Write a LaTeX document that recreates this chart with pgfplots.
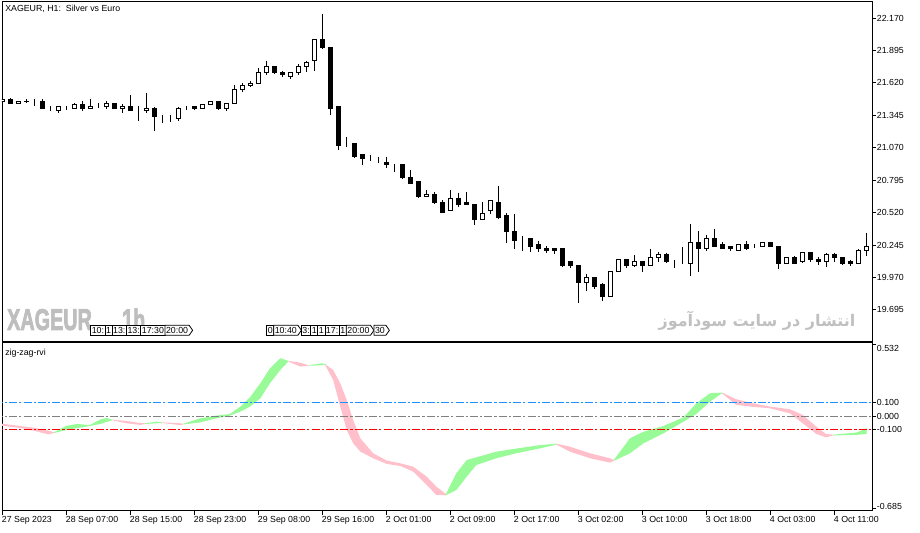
\documentclass[border=0pt]{standalone}
\usepackage{pgfplots}
\usepackage{pgfplotstable}
\pgfplotsset{compat=1.18}
\usetikzlibrary{shapes.symbols}
\usepackage{fontspec}
\setmainfont{Liberation Sans}
\newfontfamily\wmfont{Liberation Sans}[BoldFeatures={FakeBold=3}]
\newfontfamily\arabicfont[Script=Arabic]{DejaVu Sans}
\TeXXeTstate=1
\newcommand{\mt}{\fontsize{6.6pt}{7.6pt}\selectfont}
\definecolor{rvigreen}{RGB}{152,251,152}
\definecolor{rvipink}{RGB}{255,192,203}
\definecolor{lvlblue}{RGB}{30,144,255}
\definecolor{lvlgray}{RGB}{128,128,128}
\definecolor{lvlred}{RGB}{255,0,0}
\definecolor{wmgray}{RGB}{190,190,190}
\definecolor{fagray}{RGB}{192,192,192}

\pgfplotstableread{
i o h l c
0 21.466 21.483 21.466 21.483
1 21.483 21.492 21.449 21.449
2 21.449 21.466 21.449 21.466
3 21.464 21.483 21.449 21.466
4 21.466 21.483 21.424 21.466
5 21.458 21.483 21.399 21.407
6 21.403 21.420 21.382 21.403
7 21.390 21.424 21.365 21.424
8 21.420 21.420 21.390 21.420
9 21.407 21.449 21.399 21.441
10 21.441 21.466 21.382 21.399
11 21.407 21.483 21.399 21.424
12 21.424 21.449 21.407 21.424
13 21.424 21.466 21.399 21.449
14 21.449 21.449 21.399 21.399
15 21.399 21.441 21.365 21.424
16 21.424 21.517 21.382 21.382
17 21.390 21.424 21.297 21.390
18 21.382 21.534 21.365 21.407
19 21.407 21.416 21.212 21.331
20 21.331 21.348 21.280 21.331
21 21.327 21.348 21.288 21.327
22 21.322 21.416 21.297 21.407
23 21.407 21.424 21.390 21.407
24 21.416 21.424 21.390 21.399
25 21.399 21.441 21.399 21.441
26 21.441 21.466 21.433 21.458
27 21.458 21.466 21.390 21.399
28 21.399 21.449 21.382 21.449
29 21.449 21.602 21.449 21.568
30 21.568 21.619 21.543 21.602
31 21.594 21.636 21.585 21.619
32 21.619 21.746 21.619 21.712
33 21.712 21.806 21.687 21.755
34 21.755 21.755 21.695 21.704
35 21.712 21.721 21.670 21.687
36 21.678 21.712 21.653 21.712
37 21.712 21.780 21.687 21.763
38 21.763 21.806 21.712 21.797
39 21.806 21.992 21.721 21.992
40 21.992 22.204 21.907 21.916
41 21.924 21.924 21.348 21.407
42 21.416 21.416 21.051 21.093
43 21.102 21.161 21.076 21.102
44 21.102 21.102 20.983 21.000
45 21.009 21.017 20.924 20.975
46 20.975 21.009 20.958 20.975
47 20.975 20.992 20.941 20.975
48 20.949 20.992 20.898 20.924
49 20.932 20.932 20.865 20.932
50 20.932 20.932 20.805 20.814
51 20.822 20.882 20.763 20.771
52 20.780 20.780 20.644 20.653
53 20.653 20.712 20.653 20.678
54 20.678 20.695 20.593 20.602
55 20.610 20.627 20.517 20.525
56 20.542 20.712 20.534 20.644
57 20.644 20.687 20.568 20.593
58 20.602 20.695 20.585 20.585
59 20.585 20.593 20.415 20.466
60 20.466 20.610 20.466 20.517
61 20.534 20.619 20.509 20.619
62 20.610 20.746 20.466 20.483
63 20.492 20.517 20.263 20.364
64 20.364 20.509 20.212 20.288
65 20.297 20.322 20.195 20.297
66 20.297 20.305 20.186 20.237
67 20.246 20.280 20.186 20.212
68 20.220 20.237 20.178 20.203
69 20.212 20.220 20.169 20.203
70 20.212 20.212 20.059 20.076
71 20.102 20.110 20.051 20.068
72 20.076 20.076 19.754 19.932
73 19.932 20.000 19.856 19.974
74 19.974 19.974 19.873 19.898
75 19.907 19.924 19.771 19.813
76 19.813 20.025 19.805 20.017
77 20.025 20.127 20.017 20.119
78 20.119 20.119 20.051 20.068
79 20.068 20.161 20.059 20.110
80 20.110 20.110 20.017 20.068
81 20.076 20.212 20.076 20.144
82 20.144 20.186 20.102 20.169
83 20.169 20.178 20.093 20.102
84 20.102 20.119 20.051 20.102
85 20.093 20.229 20.085 20.093
86 20.093 20.424 19.983 20.271
87 20.271 20.364 20.017 20.212
88 20.212 20.331 20.195 20.297
89 20.305 20.381 20.229 20.237
90 20.246 20.271 20.212 20.220
91 20.229 20.237 20.195 20.212
92 20.203 20.246 20.203 20.246
93 20.254 20.280 20.203 20.212
94 20.237 20.254 20.220 20.237
95 20.237 20.271 20.229 20.263
96 20.263 20.263 20.229 20.229
97 20.237 20.237 20.042 20.093
98 20.093 20.144 20.085 20.136
99 20.136 20.152 20.085 20.093
100 20.102 20.186 20.093 20.178
101 20.178 20.178 20.102 20.119
102 20.127 20.144 20.076 20.110
103 20.110 20.178 20.059 20.161
104 20.161 20.178 20.102 20.144
105 20.144 20.144 20.076 20.093
106 20.102 20.119 20.068 20.093
107 20.093 20.212 20.085 20.203
108 20.195 20.348 20.152 20.237
}\candles

\tikzset{
  tb/.style={draw=black, line width=0.6pt, fill=white, inner xsep=0.8pt, inner ysep=0pt,
    minimum height=7.5pt, font=\mt, anchor=west, outer sep=0pt},
  ta/.style={tb, shape=signal, signal to=east, signal pointer angle=110},
  lvl/.style={line width=0.8pt, dash pattern=on 6pt off 1.6pt on 1.6pt off 1.6pt}
}

\begin{document}
\begin{tikzpicture}[x=0.75pt,y=-0.75pt]
\path[use as bounding box] (0,0) rectangle (920,532);

% watermark (behind everything)
\node[anchor=south west, inner sep=0pt, xscale=0.66, text=wmgray,
  font=\fontsize{22.5pt}{22.5pt}\wmfont\bfseries] at (7,330.5) {XAGEUR};
\node[anchor=south west, inner sep=0pt, xscale=0.66, text=wmgray,
  font=\fontsize{22.5pt}{22.5pt}\wmfont\bfseries] at (122,330.5) {1h};
\node[text=fagray, inner sep=0pt, font=\arabicfont\bfseries\fontsize{12pt}{12pt}\selectfont]
  at (757,321) {\beginR انتشار در سایت سودآموز\endR};

% ---------- upper panel: frame, price scale, wicks ----------
\begin{axis}[
  at={(1.5pt,-255.75pt)}, anchor=south west, scale only axis,
  width=652.5pt, height=255pt,
  xmin=-0.09, xmax=108.66, ymin=19.4319, ymax=22.3141,
  axis line style={line width=0.75pt},
  xtick=\empty,
  ytick={19.695,19.970,20.245,20.520,20.795,21.070,21.345,21.620,21.895,22.170},
  yticklabels={19.695,19.970,20.245,20.520,20.795,21.070,21.345,21.620,21.895,22.170},
  ytick pos=right, yticklabel pos=right, tick align=outside,
  major tick length=3pt, tick style={black, line width=0.75pt},
  yticklabel style={font=\mt, inner sep=0pt, anchor=west, xshift=0.5pt},
]
\addplot[draw=none, mark=none,
  error bars/.cd, y dir=both, y explicit, error mark=none,
  error bar style={draw=black, line width=0.75pt, solid}]
  table[x=i, y=h, y error plus expr={0}, y error minus expr={\thisrow{h}-\thisrow{l}}] {\candles};
\end{axis}

% ---------- upper panel: candle bodies ----------
\begin{axis}[
  at={(1.5pt,-255.75pt)}, anchor=south west, scale only axis,
  width=652.5pt, height=255pt,
  xmin=-0.09, xmax=108.66, ymin=19.4319, ymax=22.3141,
  hide axis, ybar stacked, bar width=0.5,
]
\addplot[draw=none, fill=none] table[x=i, y expr={min(\thisrow{o},\thisrow{c})}] {\candles};
\addplot[draw=black, fill=white, line width=0.75pt] table[x=i, y expr={max(\thisrow{c}-\thisrow{o},0)}] {\candles};
\addplot[draw=black, fill=black, line width=0.75pt] table[x=i, y expr={max(\thisrow{o}-\thisrow{c},0)}] {\candles};
\end{axis}

% ---------- lower panel: zig-zag-rvi ----------
\begin{axis}[
  at={(1.5pt,-383.0pt)}, anchor=south west, scale only axis,
  width=652.5pt, height=125.8pt,
  xmin=-0.09, xmax=108.66, ymin=-0.699, ymax=0.543,
  axis line style={line width=0.75pt},
  xtick={0,8,16,24,32,40,48,56,64,72,80,88,96,104},
  xticklabels={27 Sep 2023,28 Sep 07:00,28 Sep 15:00,28 Sep 23:00,29 Sep 08:00,29 Sep 16:00,2 Oct 01:00,2 Oct 09:00,2 Oct 17:00,3 Oct 02:00,3 Oct 10:00,3 Oct 18:00,4 Oct 03:00,4 Oct 11:00},
  xtick pos=bottom, ytick pos=right, yticklabel pos=right, tick align=outside,
  major tick length=3pt, tick style={black, line width=0.75pt},
  xticklabel style={font=\mt, inner sep=0pt, anchor=north west, xshift=-0.8pt, yshift=-1pt},
  ytick={-0.685,-0.1,0,0.1,0.532},
  yticklabels={{\raisebox{1.9pt}[4.7pt][0pt]{-0.685}},-0.100,0.000,0.100,{\raisebox{-3pt}[4.7pt][0pt]{0.532}}},
  yticklabel style={font=\mt, inner sep=0pt, anchor=west, xshift=0.5pt},
]
% ribbon: pink where falling, green where rising
\addplot[fill=rvipink, draw=none] coordinates {(-0.1,-0.055) (2.2,-0.072) (3.8,-0.084) (5.7,-0.106) (6.4,-0.118) (6.4,-0.124) (5.7,-0.134) (3.8,-0.106) (2.2,-0.087) (-0.1,-0.070)};
\addplot[fill=rvigreen, draw=none] coordinates {(6.4,-0.118) (8.0,-0.070) (9.3,-0.057) (10.9,-0.065) (12.2,-0.023) (13.0,-0.013) (13.7,-0.025) (13.7,-0.030) (13.0,-0.042) (12.2,-0.057) (10.9,-0.072) (9.3,-0.087) (8.0,-0.101) (6.4,-0.124)};
\addplot[fill=rvipink, draw=none] coordinates {(13.7,-0.025) (15.5,-0.035) (17.2,-0.050) (17.8,-0.052) (17.8,-0.057) (17.2,-0.064) (15.5,-0.052) (13.7,-0.030)};
\addplot[fill=rvigreen, draw=none] coordinates {(17.8,-0.052) (19.2,-0.040) (19.9,-0.045) (19.9,-0.050) (19.2,-0.052) (17.8,-0.057)};
\addplot[fill=rvipink, draw=none] coordinates {(19.9,-0.045) (22.2,-0.052) (22.6,-0.055) (22.6,-0.060) (22.2,-0.065) (19.9,-0.050)};
\addplot[fill=rvigreen, draw=none] coordinates {(22.6,-0.055) (24.7,-0.015) (26.7,0.005) (28.4,0.017) (29.7,0.071) (30.9,0.140) (32.2,0.244) (33.4,0.355) (34.7,0.430) (35.7,0.410) (35.7,0.405) (34.7,0.343) (33.4,0.244) (32.2,0.133) (30.9,0.071) (29.7,0.034) (28.4,0.005) (26.7,-0.015) (24.7,-0.045) (22.6,-0.060)};
\addplot[fill=rvipink, draw=none] coordinates {(35.7,0.410) (37.2,0.397) (38.2,0.378) (38.2,0.374) (37.2,0.368) (35.7,0.405)};
\addplot[fill=rvigreen, draw=none] coordinates {(38.2,0.378) (39.9,0.392) (40.3,0.386) (40.3,0.380) (39.9,0.378) (38.2,0.374)};
\addplot[fill=rvipink, draw=none] coordinates {(40.3,0.386) (41.3,0.343) (42.2,0.244) (43.0,0.121) (43.8,-0.027) (44.7,-0.163) (46.3,-0.274) (48.0,-0.328) (49.7,-0.348) (51.3,-0.373) (53.0,-0.447) (54.2,-0.521) (55.4,-0.575) (55.4,-0.585) (54.2,-0.583) (53.0,-0.509) (51.3,-0.410) (49.7,-0.368) (48.0,-0.353) (46.3,-0.311) (44.7,-0.262) (43.8,-0.200) (43.0,-0.101) (42.2,0.071) (41.3,0.269) (40.3,0.380)};
\addplot[fill=rvigreen, draw=none] coordinates {(55.4,-0.575) (56.7,-0.422) (58.0,-0.324) (59.2,-0.304) (61.7,-0.262) (64.2,-0.239) (67.2,-0.213) (69.2,-0.203) (69.2,-0.210) (67.2,-0.237) (64.2,-0.274) (61.7,-0.311) (59.2,-0.361) (58.0,-0.447) (56.7,-0.546) (55.4,-0.585)};
\addplot[fill=rvipink, draw=none] coordinates {(69.2,-0.203) (70.9,-0.225) (73.4,-0.274) (75.9,-0.311) (76.4,-0.323) (76.4,-0.330) (75.9,-0.343) (73.4,-0.311) (70.9,-0.262) (69.2,-0.210)};
\addplot[fill=rvigreen, draw=none] coordinates {(76.4,-0.323) (78.4,-0.163) (80.1,-0.114) (82.6,-0.072) (85.1,-0.008) (86.7,0.096) (88.4,0.170) (89.9,0.176) (89.9,0.170) (88.4,0.108) (86.7,0.017) (85.1,-0.040) (82.6,-0.126) (80.1,-0.200) (78.4,-0.274) (76.4,-0.330)};
\addplot[fill=rvipink, draw=none] coordinates {(89.9,0.176) (91.7,0.126) (93.4,0.101) (95.9,0.072) (98.4,0.052) (100.0,0.010) (101.7,-0.077) (102.9,-0.131) (103.8,-0.136) (103.8,-0.142) (102.9,-0.156) (101.7,-0.131) (100.0,-0.052) (98.4,0.022) (95.9,0.059) (93.4,0.072) (91.7,0.084) (89.9,0.170)};
\addplot[fill=rvigreen, draw=none] coordinates {(103.8,-0.136) (106.7,-0.121) (108.0,-0.089) (108.0,-0.131) (106.7,-0.138) (103.8,-0.142)};
% levels
\addplot[lvl, color=lvlblue] coordinates {(-1,0.1) (110,0.1)};
\addplot[lvl, color=lvlgray] coordinates {(-1,0) (110,0)};
\addplot[lvl, color=lvlred] coordinates {(-1,-0.1) (110,-0.1)};
\end{axis}

% ---------- texts ----------
\node[anchor=west, font=\mt, inner sep=0pt] at (5,9) {XAGEUR, H1:\ \ Silver vs Euro};
\node[anchor=west, font=\mt, inner sep=0pt] at (5,353) {zig-zag-rvi};

% time-label boxes
\node[tb] (a1) at (90.7,330.3) {10:};
\node[tb] (a2) at (a1.east) {1};
\node[tb] (a3) at (a2.east) {13:};
\node[tb] (a4) at (a3.east) {13:};
\node[tb] (a5) at (a4.east) {17:30};
\node[ta] (a6) at (a5.east) {20:00};
\node[tb] (b1) at (266.7,330.3) {0};
\node[ta] (b2) at (b1.east) {10:40};
\node[tb] (b3) at (b2.east) {3:};
\node[tb] (b4) at (b3.east) {1};
\node[tb] (b5) at (b4.east) {1};
\node[tb] (b6) at (b5.east) {17:};
\node[tb] (b7) at (b6.east) {1};
\node[ta] (b8) at (b7.east) {20:00};
\node[ta] (b9) at (b8.east) {30};
\end{tikzpicture}
\end{document}
